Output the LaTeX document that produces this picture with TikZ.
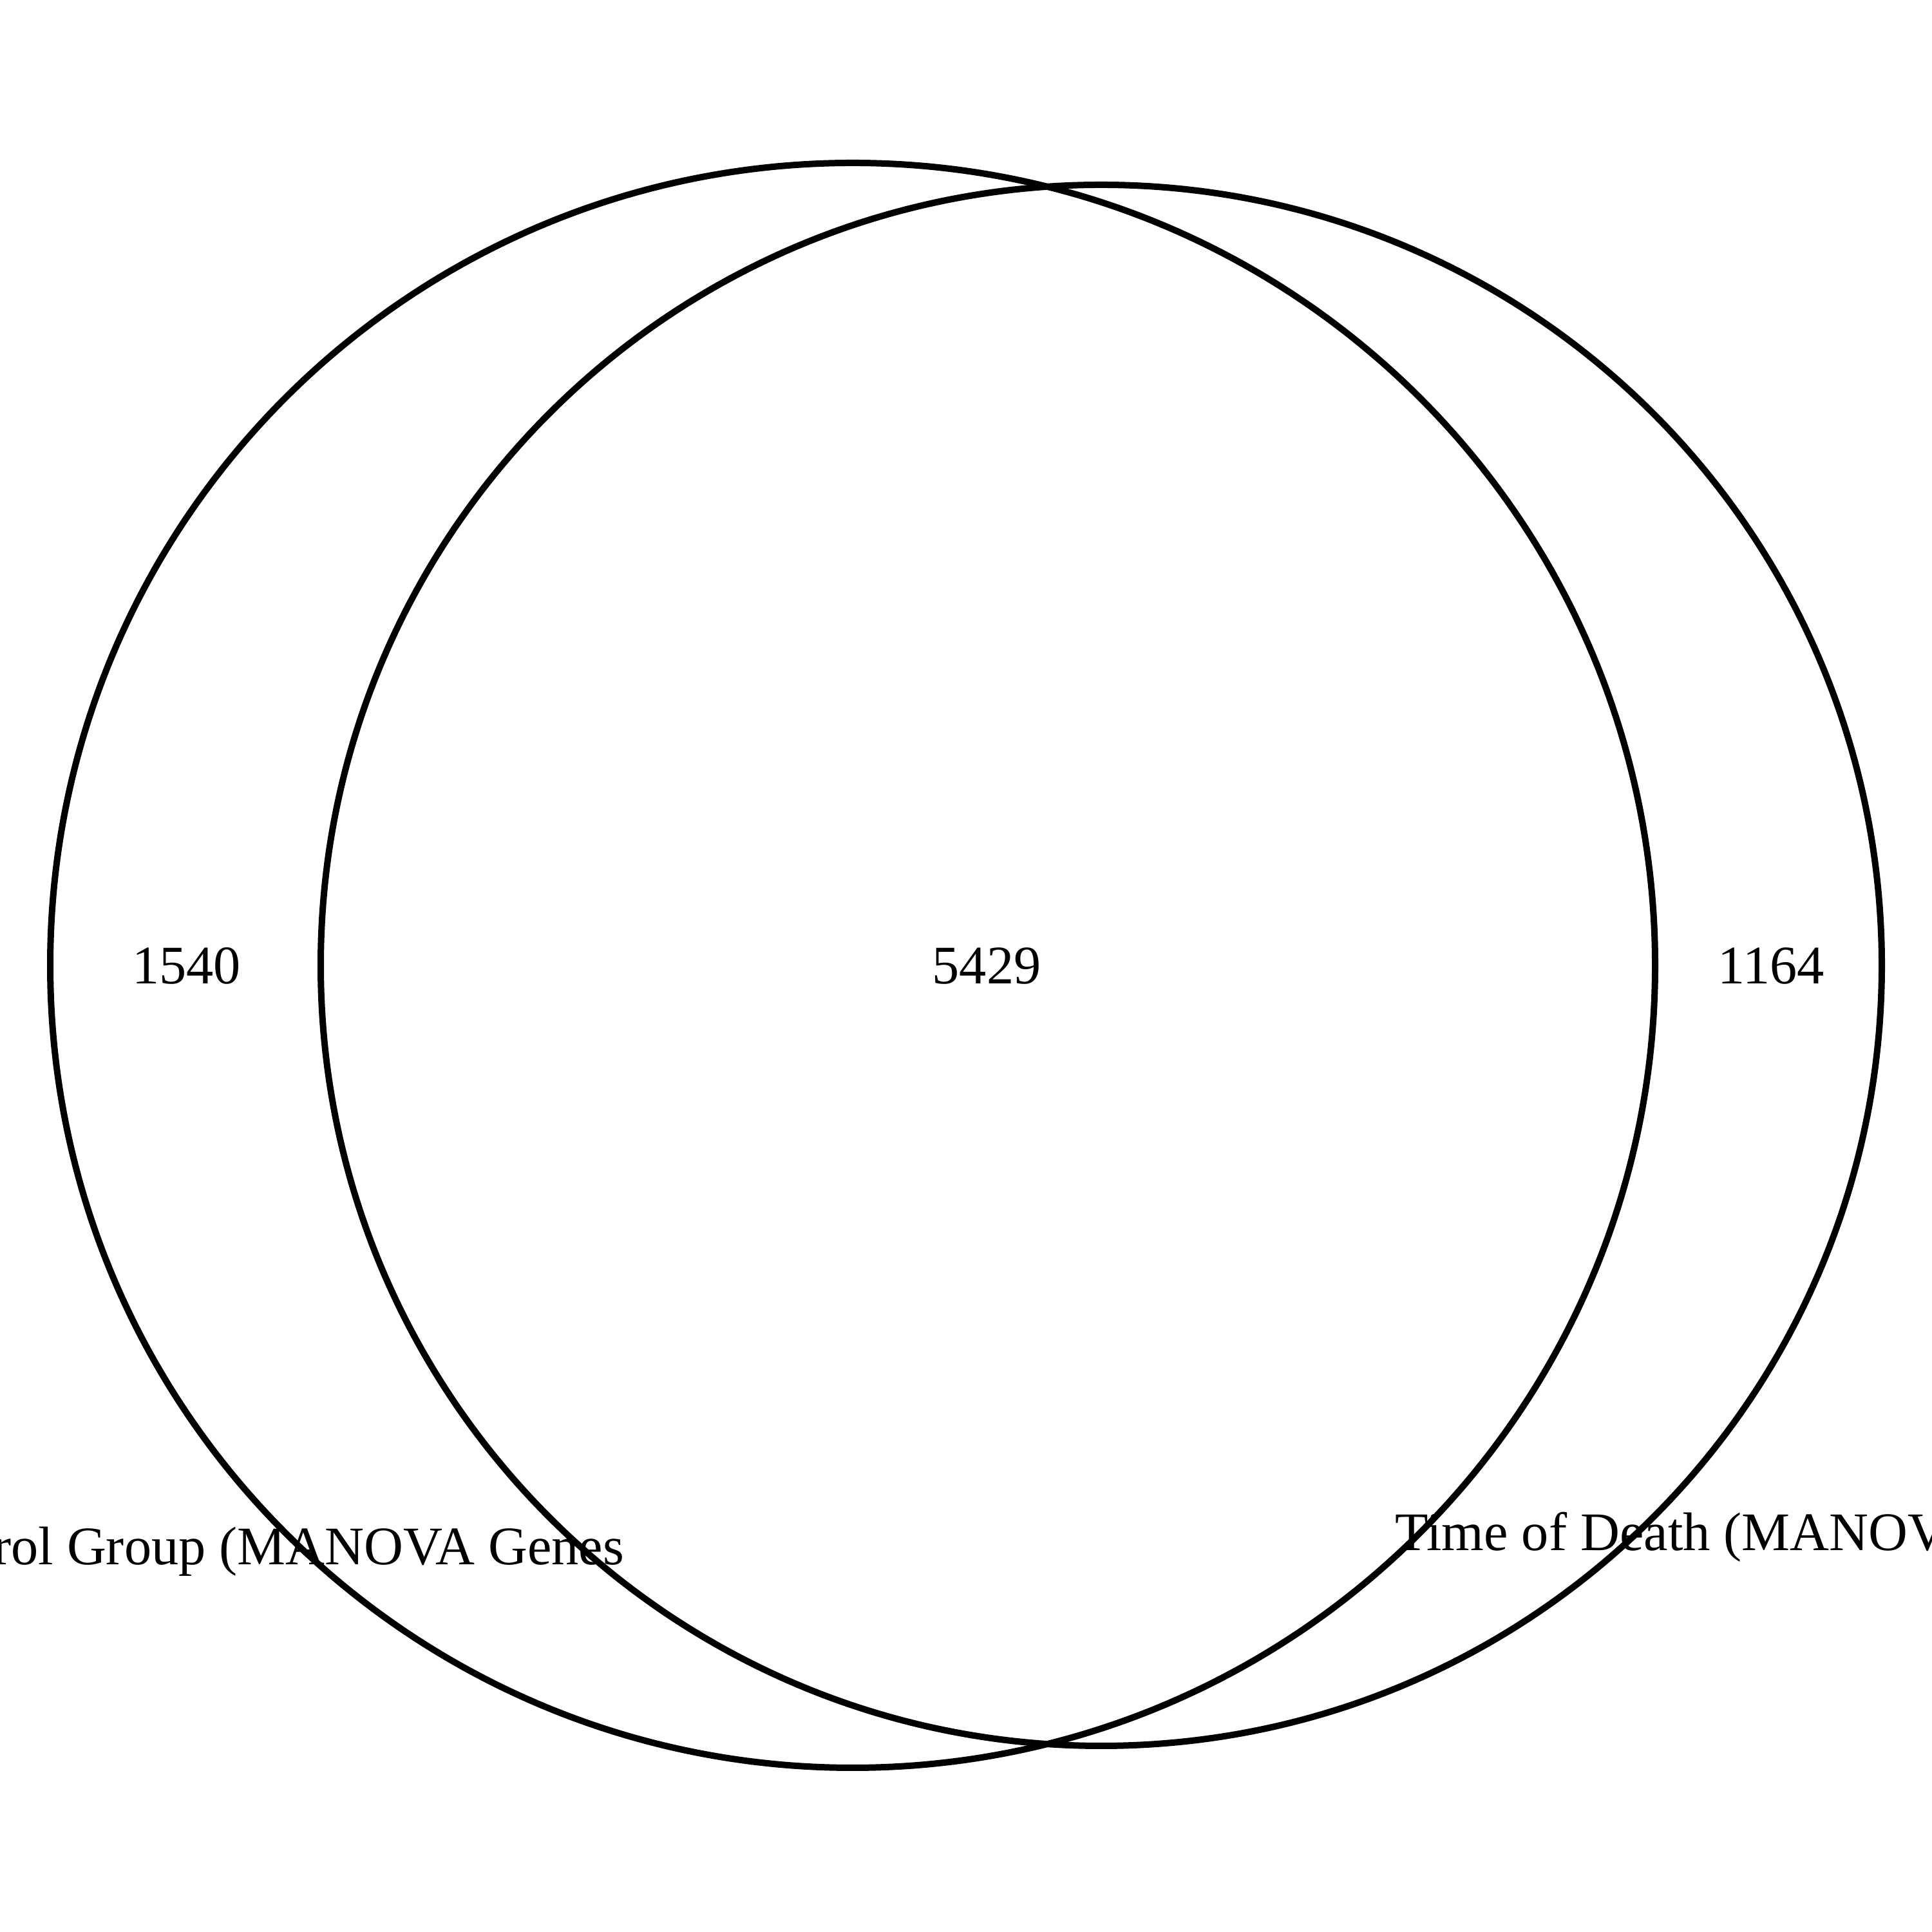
\documentclass[tikz,border=0pt]{standalone}
\usepackage{fontspec}
\setmainfont{Liberation Serif}
\usepackage{tikz}
\usetikzlibrary{positioning}

\begin{document}
\begin{tikzpicture}[
  set/.style={
    circle, draw=black, line width=0.1cm,
    inner sep=0pt, outer sep=0pt
  },
  count/.style={
    font=\fontsize{24}{28}\selectfont, inner sep=0pt
  },
  setlabel/.style={
    font=\fontsize{24}{28}\selectfont, inner sep=0pt
  }
]

% ---- Cadre ----
\useasboundingbox (0,0) rectangle (30,30);
\clip (0,0) rectangle (30,30);

% ---- Ensembles ----
\node[set, minimum size=24.92cm] (ctrl) at (13.24, 15.01) {};
\node[set, minimum size=24.24cm] (tod) at (17.10, 15.01) {};

% ---- Effectifs ----
\node[count] (onlyctrl) at (2.895, 15.0) {1540};
\node[count] (both) at (15.32, 15.0) {5429};
\node[count] (onlytod) at (27.50, 15.0) {1164};

% ---- Noms des ensembles ----
\node[setlabel, anchor=base east] (ctrlname) at (9.70, 5.70)
  {Control Group (MANOVA Genes};
\node[setlabel, anchor=base west] (todname) at (21.66, 5.92)
  {Time of Death (MANOVA Genes};

\end{tikzpicture}
\end{document}
